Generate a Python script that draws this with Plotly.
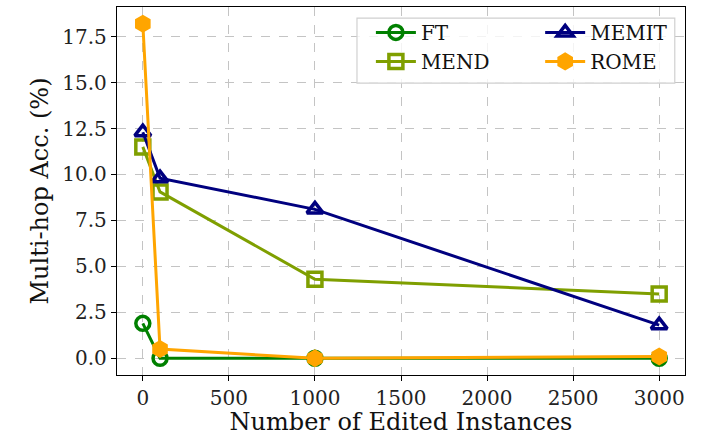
import plotly.graph_objects as go

# Number of edited instances (x) and multi-hop accuracy (%) per method
edited = [0, 100, 1000, 3000]
ft = [1.9, 0.0, 0.0, 0.0]
mend = [11.5, 9.05, 4.3, 3.5]
memit = [12.3, 9.8, 8.1, 1.8]
rome = [18.2, 0.5, 0.0, 0.1]

FONT = "DejaVu Serif"

series = [
    # name, values, color, symbol, legend, rank
    ("FT", ft, "#008000", "circle-open", "legend", 1),
    ("MEND", mend, "#7f9f00", "square-open", "legend", 2),
    ("MEMIT", memit, "#00007f", "triangle-up-open", "legend2", 1),
    ("ROME", rome, "#ffa500", "hexagon", "legend2", 2),
]

fig = go.Figure()
for name, vals, color, symbol, leg, rank in series:
    fig.add_trace(go.Scatter(
        x=edited, y=vals, name=name, mode="lines+markers",
        line=dict(color=color, width=3),
        marker=dict(symbol=symbol, size=14, color=color,
                    line=dict(color=color, width=3.5)),
        legend=leg, legendrank=rank,
    ))

axis_common = dict(
    showline=True, linecolor="black", linewidth=1.3, mirror=True,
    ticks="outside", ticklen=5, tickwidth=1.2, tickcolor="black",
    showgrid=True, gridcolor="#c4c4c4", griddash="dash", gridwidth=1,
    zeroline=False, automargin=False,
    tickfont=dict(family=FONT, size=20, color="#222"),
)

fig.update_xaxes(
    range=[-150, 3150], tickvals=[0, 500, 1000, 1500, 2000, 2500, 3000],
    title=dict(text="Number of Edited Instances",
               font=dict(family=FONT, size=24, color="#111"), standoff=4),
    **axis_common,
)
fig.update_yaxes(
    range=[-0.91, 19.11], tickvals=[0, 2.5, 5, 7.5, 10, 12.5, 15, 17.5],
    ticktext=["0.0", "2.5", "5.0", "7.5", "10.0", "12.5", "15.0", "17.5"],
    title=dict(text="Multi-hop Acc. (%)",
               font=dict(family=FONT, size=24, color="#111"), standoff=6),
    **axis_common,
)

legend_style = dict(
    font=dict(family=FONT, size=20, color="#111"),
    bgcolor="rgba(0,0,0,0)", borderwidth=0, orientation="v",
    xref="paper", yref="paper", yanchor="top", xanchor="left",
    itemwidth=40,
)

fig.update_layout(
    width=701, height=436,
    margin=dict(l=117, r=16, t=7, b=61),
    paper_bgcolor="white", plot_bgcolor="white",
    legend=dict(x=0.447, y=0.984, **legend_style),
    legend2=dict(x=0.745, y=0.984, **legend_style),
    shapes=[dict(
        type="rect", xref="paper", yref="paper",
        x0=0.4225, x1=0.982, y0=0.793, y1=0.970,
        fillcolor="rgba(255,255,255,0.8)",
        line=dict(color="#d0d0d0", width=1.2), layer="above",
    )],
)

fig.write_html("out.html")
